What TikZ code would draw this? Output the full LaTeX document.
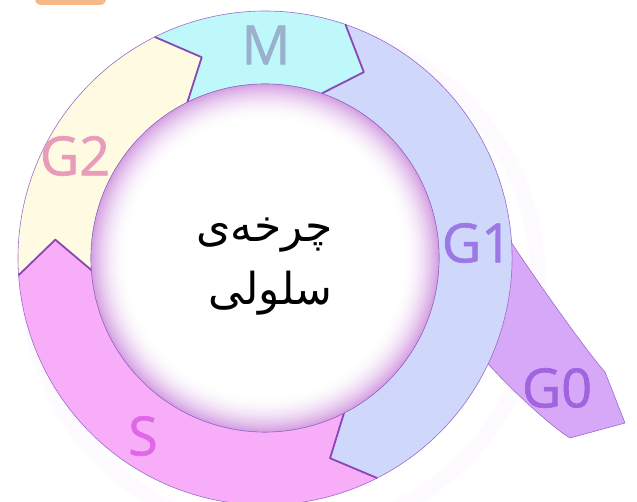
\documentclass[tikz,border=0pt]{standalone}
\usepackage{fontspec}
\newfontfamily\labelfont{Open Sans}[FakeBold=1.2]
\newfontfamily\arabicfont[Script=Arabic]{DejaVu Sans}
\TeXXeTstate=1

\definecolor{tabor}{HTML}{F5B98A}
\definecolor{mcyan}{HTML}{BEF8FB}
\definecolor{gonebl}{HTML}{CFD7FB}
\definecolor{spink}{HTML}{F8ADF9}
\definecolor{gtwocream}{HTML}{FFFBE2}
\definecolor{gzero}{HTML}{D8A8F8}
\definecolor{ringline}{HTML}{9A6BC8}
\definecolor{headpurple}{HTML}{8A48B4}
\definecolor{innershade}{HTML}{D7A4E3}
\definecolor{glowpurple}{HTML}{D9A8EE}
\definecolor{mtext}{HTML}{9AB0CC}
\definecolor{gtwotext}{HTML}{E79DBA}
\definecolor{gonetext}{HTML}{9C78E6}
\definecolor{gzerotext}{HTML}{A064DF}
\definecolor{stext}{HTML}{E068E8}

\begin{document}
\begin{tikzpicture}[
    x=1pt, y=1pt,
    phase/.style={draw=ringline, line width=0.6pt},
    headline/.style={draw=headpurple, line width=1.8pt, line join=round},
    phaselabel/.style={font=\labelfont\fontsize{54}{54}\selectfont, inner sep=0pt},
    persian/.style={font=\arabicfont\fontsize{44}{50}\selectfont, inner sep=0pt}
]
\useasboundingbox (0,0) rectangle (637,502);

% Orange tab, cut by the top edge
\fill [tabor, rounded corners=6pt] (35,497) rectangle (106,520);

% Soft glow, to the lower right
\begin{scope}[shift={(283,222)}]
  \foreach \i in {1,...,8}
    \draw [glowpurple, opacity=0.035, line width=3pt] (0,0) circle [radius=246+2*\i];
\end{scope}

% G0 tail (under G1)
\draw [phase, fill=gzero] (470,262) -- (506,268)
  .. controls (520,245) and (585,152) .. (605,130)
  -- (625,79) -- (570,64)
  .. controls (550,76) and (505,118) .. (484,143)
  -- (460,160) -- cycle;

% Ring of phases, clockwise: M, G1, S, G2
\begin{scope}[shift={(265,244)}]
  \foreach \a/\b/\col in {116.5/71/mcyan, 71/-63/gonebl, -63/-176/spink, -176/-243.5/gtwocream} {
    \draw [phase, fill=\col] (\a:247) arc [start angle=\a, end angle=\b, radius=247]
      -- (\b-9:210.5) -- (\b:174) arc [start angle=\b, end angle=\a, radius=174]
      -- (\a-9:210.5) -- cycle;
  }
  % arrow heads
  \foreach \b in {71,-63,-176,-243.5}
    \draw [headline] (\b:247) -- (\b-9:210.5) -- (\b:174);

  % inner shadow
  \foreach \i in {0,...,18} {
    \pgfmathtruncatemacro\k{100*((18-\i)/18)^2}
    \fill [innershade!\k!white] (0,0) circle [radius=173.7-2*\i];
  }
  \draw [ringline, line width=0.6pt] (0,0) circle [radius=174];
\end{scope}

% Phase labels
\node [phaselabel, text=mtext] (mlabel) at (266,457) {M};
\node [phaselabel, text=gtwotext] (gtwolabel) at (75,346) {G2};
\node [phaselabel, text=gonetext] (gonelabel) at (477,259) {G1};
\node [phaselabel, text=gzerotext] (gzerolabel) at (557,114) {G0};
\node [phaselabel, text=stext] (slabel) at (143,66) {S};

% Title
\node [persian, anchor=east] (titleone) at (333,267) {\beginR چرخه‌ی\endR};
\node [persian, anchor=east] (titletwo) at (333,209) {\beginR سلولی\endR};

\end{tikzpicture}
\end{document}
